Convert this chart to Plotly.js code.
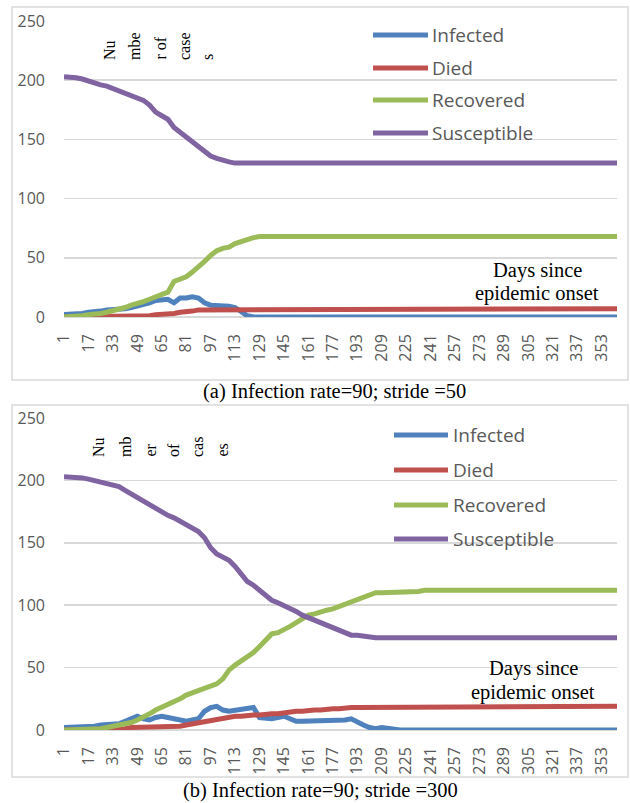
<!DOCTYPE html>
<html>
<head>
<meta charset="utf-8">
<script src="https://cdn.plot.ly/plotly-3.0.1.min.js"></script>
<style>
  html, body { margin: 0; padding: 0; background: #ffffff; }
  #chart { width: 630px; height: 803px; }
</style>
</head>
<body>
<div id="chart"></div>
<script>
// Sampled simulation days (x values)
const days = [
  1, 5, 9, 13, 17, 21, 25, 29, 33, 37,
  41, 45, 49, 53, 57, 61, 65, 69, 73, 77,
  81, 85, 89, 93, 97, 101, 105, 109, 113, 117,
  121, 125, 129, 133, 137, 141, 145, 149, 153, 157,
  161, 165, 169, 173, 177, 181, 185, 189, 193, 197,
  201, 205, 209, 213, 217, 221, 225, 229, 233, 237,
  241, 261, 281, 301, 321, 341, 363
];

// Category tick labels along the day axis
const tickDays = [1, 17, 33, 49, 65, 81, 97, 113, 129, 145, 161, 177, 193, 209, 225, 241, 257, 273, 289, 305, 321, 337, 353];
const tickLabels = tickDays.map(String);

const seriesNames = ['Infected', 'Died', 'Recovered', 'Susceptible'];

// (a) Infection rate=90; stride =50
const infectedA = [
  2, 2, 3, 3, 4, 4, 5, 6, 6, 7,
  7, 8, 9, 10, 12, 14, 15, 15, 12, 16,
  16, 17, 16, 12, 10, 10, 9, 9, 8, 4,
  1, 0, 0, 0, 0, 0, 0, 0, 0, 0,
  0, 0, 0, 0, 0, 0, 0, 0, 0, 0,
  0, 0, 0, 0, 0, 0, 0, 0, 0, 0,
  0, 0, 0, 0, 0, 0, 0
];
const diedA = [
  0, 0, 0, 0, 0, 0, 1, 1, 1, 1,
  1, 1, 1, 1, 1, 2, 2, 3, 3, 4,
  4, 5, 6, 6, 7, 7, 7, 7, 7, 7,
  7, 7, 7, 7, 7, 7, 7, 7, 7, 7,
  7, 7, 7, 7, 7, 7, 7, 7, 7, 7,
  7, 7, 7, 7, 7, 7, 7, 7, 7, 7,
  7, 7, 7, 7, 7, 7, 7
];
const recoveredA = [
  0, 0, 0, 1, 2, 2, 3, 4, 5, 6,
  8, 10, 11, 13, 15, 17, 19, 21, 30, 32,
  34, 38, 42, 47, 52, 56, 58, 59, 62, 64,
  66, 67, 68, 68, 68, 68, 68, 68, 68, 68,
  68, 68, 68, 68, 68, 68, 68, 68, 68, 68,
  68, 68, 68, 68, 68, 68, 68, 68, 68, 68,
  68, 68, 68, 68, 68, 68, 68
];
const susceptibleA = [
  203, 203, 202, 201, 199, 198, 196, 195, 193, 191,
  189, 187, 185, 183, 179, 173, 170, 167, 160, 156,
  152, 148, 143, 139, 136, 134, 132, 131, 130, 130,
  130, 130, 130, 130, 130, 130, 130, 130, 130, 130,
  130, 130, 130, 130, 130, 130, 130, 130, 130, 130,
  130, 130, 130, 130, 130, 130, 130, 130, 130, 130,
  130, 130, 130, 130, 130, 130, 130
];

// (b) Infection rate=90; stride =300
const infectedB = [
  2, 2, 2, 3, 3, 3, 4, 4, 4, 5,
  7, 9, 11, 9, 8, 10, 11, 10, 9, 8,
  7, 8, 9, 15, 18, 19, 16, 15, 16, 17,
  17, 18, 10, 9, 9, 10, 11, 9, 7, 7,
  7, 7, 7, 7, 7, 7, 8, 9, 6, 4,
  2, 1, 2, 1, 0, 0, 0, 0, 0, 0,
  0, 0, 0, 0, 0, 0, 0
];
const diedB = [
  0, 0, 0, 0, 0, 0, 0, 0, 1, 1,
  1, 2, 2, 2, 3, 3, 3, 3, 3, 3,
  4, 5, 6, 7, 8, 9, 9, 10, 11, 11,
  12, 12, 12, 13, 13, 13, 14, 14, 15, 15,
  16, 16, 16, 17, 17, 17, 18, 18, 18, 18,
  18, 19, 19, 19, 19, 19, 19, 19, 19, 19,
  19, 19, 19, 19, 19, 19, 19
];
const recoveredB = [
  0, 0, 0, 0, 0, 0, 1, 2, 3, 4,
  5, 6, 8, 10, 13, 16, 18, 21, 23, 25,
  28, 30, 32, 34, 35, 37, 41, 48, 52, 55,
  59, 62, 67, 72, 77, 78, 80, 83, 86, 89,
  92, 93, 95, 96, 97, 99, 100, 102, 104, 106,
  109, 110, 110, 110, 110, 111, 111, 111, 111, 112,
  112, 112, 112, 112, 112, 112, 112
];
const susceptibleB = [
  203, 203, 202, 202, 201, 200, 199, 198, 197, 195,
  192, 189, 186, 183, 181, 178, 175, 172, 170, 167,
  165, 162, 159, 154, 146, 141, 138, 136, 131, 125,
  119, 116, 112, 107, 104, 102, 100, 97, 95, 92,
  90, 88, 87, 85, 83, 81, 78, 76, 76, 75,
  75, 74, 74, 74, 74, 74, 74, 74, 74, 74,
  74, 74, 74, 74, 74, 74, 74
];

const captionA = '(a) Infection rate=90; stride =50';
const captionB = '(b) Infection rate=90; stride =300';
const yTitleA = ['Nu', 'mbe', 'r of', 'case', 's'];
const yTitleB = ['Nu', 'mb', 'er', 'of', 'cas', 'es'];
const xTitle = ['Days since', 'epidemic onset'];

// ---- styling ----
const colors = ['#4F81BD', '#C0504D', '#9BBB59', '#8064A2'];
const W = 630, H = 803;
const px = v => v / W;
const py = v => 1 - v / H;
const sans = 'Open Sans, Noto Sans, sans-serif';
const serif = 'Liberation Serif, Times New Roman, serif';
const grey = '#595959';
const gridGrey = '#d9d9d9';

function lineTrace(y, i, xa, ya) {
  return {
    type: 'scatter', mode: 'lines', name: seriesNames[i],
    x: days, y: y, xaxis: xa, yaxis: ya,
    line: { color: colors[i], width: 5 },
    cliponaxis: false, hoverinfo: 'skip'
  };
}

const data = [
  lineTrace(infectedA, 0, 'x', 'y'),
  lineTrace(diedA, 1, 'x', 'y'),
  lineTrace(recoveredA, 2, 'x', 'y'),
  lineTrace(susceptibleA, 3, 'x', 'y'),
  lineTrace(infectedB, 0, 'x2', 'y2'),
  lineTrace(diedB, 1, 'x2', 'y2'),
  lineTrace(recoveredB, 2, 'x2', 'y2'),
  lineTrace(susceptibleB, 3, 'x2', 'y2')
];

function xAxis(anchor) {
  return {
    anchor: anchor, domain: [px(64), px(617)], range: [1, 363],
    tickmode: 'array', tickvals: tickDays, ticktext: tickLabels,
    tickangle: -90, ticks: '', ticklabelstandoff: 13,
    tickfont: { family: sans, size: 16, color: grey },
    showgrid: false, zeroline: false, showline: false, fixedrange: true
  };
}
function yAxis(anchor, dom) {
  return {
    anchor: anchor, domain: dom, range: [0, 250], dtick: 50, tick0: 0,
    ticks: '', ticklabelstandoff: 18,
    tickfont: { family: sans, size: 16, color: grey },
    showgrid: true, gridcolor: gridGrey, gridwidth: 1.5,
    zeroline: true, zerolinecolor: gridGrey, zerolinewidth: 1.5,
    showline: false, fixedrange: true
  };
}

const shapes = [];
const annotations = [];

// panel frames
[[7, 380], [405, 777]].forEach(([t, b]) => {
  shapes.push({
    type: 'rect', xref: 'paper', yref: 'paper',
    x0: px(12), x1: px(628), y0: py(b), y1: py(t),
    line: { color: gridGrey, width: 1.5 }, fillcolor: 'rgba(0,0,0,0)'
  });
});

// legends drawn inside each panel
function addLegend(x0, x1, tx, rows) {
  rows.forEach((yy, i) => {
    shapes.push({
      type: 'line', xref: 'paper', yref: 'paper',
      x0: px(x0), x1: px(x1), y0: py(yy), y1: py(yy),
      line: { color: colors[i], width: 5 }
    });
    annotations.push({
      xref: 'paper', yref: 'paper', x: px(tx), y: py(yy),
      xanchor: 'left', yanchor: 'middle', showarrow: false,
      text: seriesNames[i], font: { family: sans, size: 19, color: grey }
    });
  });
}
addLegend(373, 428, 430, [35, 68, 100, 133]);
addLegend(394, 448, 451, [435, 470, 505, 539]);

// split y-axis title, each piece reading bottom-to-top from a common baseline
function addYTitle(parts, xs, bottom) {
  parts.forEach((p, i) => {
    annotations.push({
      xref: 'paper', yref: 'paper', x: px(xs[i]), y: py(bottom),
      xanchor: 'center', yanchor: 'bottom', showarrow: false, textangle: -90,
      text: p, font: { family: serif, size: 16, color: '#000000' }
    });
  });
}
addYTitle(yTitleA, [110, 135, 160, 185, 208], 62);
addYTitle(yTitleB, [99, 126, 150, 174, 198, 222], 459);

// x-axis title placed inside the plot
function addXTitle(cx, ys) {
  xTitle.forEach((t, i) => {
    annotations.push({
      xref: 'paper', yref: 'paper', x: px(cx), y: py(ys[i]),
      xanchor: 'center', yanchor: 'middle', showarrow: false,
      text: t, font: { family: serif, size: 20.5, color: '#000000' }
    });
  });
}
addXTitle(537, [270, 293]);
addXTitle(533, [668, 692]);

// captions
[[captionA, 334, 392], [captionB, 320, 790]].forEach(([t, cx, cy]) => {
  annotations.push({
    xref: 'paper', yref: 'paper', x: px(cx), y: py(cy),
    xanchor: 'center', yanchor: 'middle', showarrow: false,
    text: t, font: { family: serif, size: 20.5, color: '#000000' }
  });
});

const layout = {
  width: W, height: H,
  margin: { l: 0, r: 0, t: 0, b: 0 },
  paper_bgcolor: '#ffffff', plot_bgcolor: 'rgba(0,0,0,0)',
  showlegend: false, hovermode: false,
  xaxis: xAxis('y'),
  yaxis: yAxis('x', [py(317), py(21)]),
  xaxis2: xAxis('y2'),
  yaxis2: yAxis('x2', [py(730), py(418)]),
  shapes: shapes,
  annotations: annotations
};

Plotly.newPlot('chart', data, layout, { displayModeBar: false, staticPlot: true });
</script>
</body>
</html>
